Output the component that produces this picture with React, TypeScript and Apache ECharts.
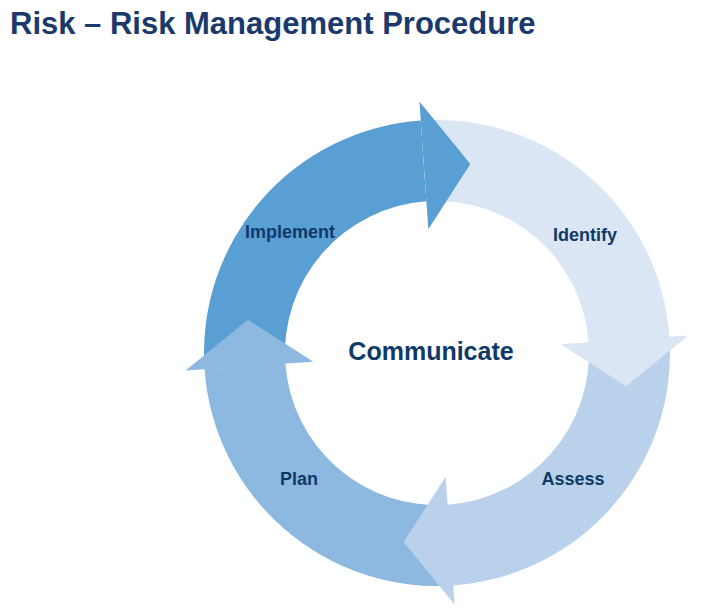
import React, { useEffect, useRef } from 'react';
import * as echarts from 'echarts';

const steps = ['Implement', 'Identify', 'Assess', 'Plan'];
const stepColors = ['#5a9fd4', '#dae6f3', '#b9d1ea', '#8db8e0'];
const labelPos: [number, number][] = [[290, 232], [585, 235], [573, 479], [299, 479]];
const baseAngles = [266, 356, 86, 176];

const CX = 437, CY = 353, R0 = 152, R1 = 233, HEAD_IN = 124, HEAD_OUT = 252, MID = 192, TIP = 14;

const rad = (d: number) => (d * Math.PI) / 180;
const pt = (r: number, a: number) => [CX + r * Math.cos(rad(a)), CY + r * Math.sin(rad(a))];

const App: React.FC = () => {
  const ref = useRef<HTMLDivElement>(null);

  useEffect(() => {
    if (!ref.current) return;
    const chart = echarts.init(ref.current, null, { renderer: 'svg' });

    const bodies = steps.map((s, i) => ({
      type: 'sector',
      shape: { cx: CX, cy: CY, r0: R0, r: R1, startAngle: rad(baseAngles[i] - 90), endAngle: rad(baseAngles[i]), clockwise: true },
      style: { fill: stepColors[i] },
    }));
    const heads = steps.map((s, i) => ({
      type: 'polygon',
      shape: { points: [pt(HEAD_IN, baseAngles[i]), pt(HEAD_OUT, baseAngles[i]), pt(MID, baseAngles[i] + TIP)] },
      style: { fill: stepColors[i] },
    }));
    const labels = steps.map((s, i) => ({
      type: 'text',
      x: labelPos[i][0],
      y: labelPos[i][1],
      style: { text: s, fill: '#0f3a68', font: 'bold 18px "Liberation Sans", Arial', textAlign: 'center', textVerticalAlign: 'middle' },
    }));

    chart.setOption({
      animation: false,
      title: {
        text: 'Risk – Risk Management Procedure',
        left: 5, top: 3,
        textStyle: { fontSize: 31, fontWeight: 'bold', color: '#1b3a6b', fontFamily: '"Liberation Sans", Arial' },
      },
      graphic: [
        ...bodies,
        ...heads,
        ...labels,
        {
          type: 'text', x: CX - 6, y: 351,
          style: { text: 'Communicate', fill: '#0f3a68', font: 'bold 25px "Liberation Sans", Arial', textAlign: 'center', textVerticalAlign: 'middle' },
        },
      ],
    } as any);

    return () => chart.dispose();
  }, []);

  return <div ref={ref} style={{ position: 'fixed', left: 0, top: 0, width: 722, height: 613, background: '#fff' }} />;
};

export default App;
